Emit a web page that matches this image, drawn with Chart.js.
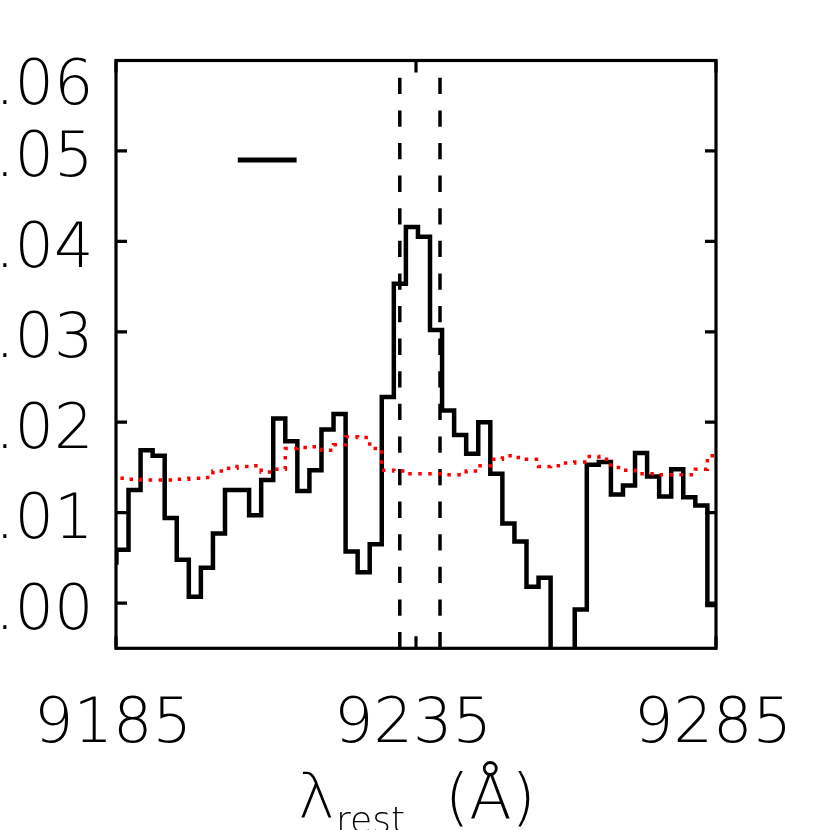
<!DOCTYPE html>
<html><head><meta charset="utf-8">
<script src="https://cdn.jsdelivr.net/npm/chart.js@4/dist/chart.umd.min.js"></script>
<style>html,body{margin:0;padding:0;background:#fff;}canvas{display:block;}</style>
</head><body>
<canvas id="c" width="830" height="830"></canvas>
<script>
// Bin centres (Å, rest frame)
const wavelength = [9184.07,9186.08,9188.09,9190.10,9192.11,9194.12,9196.13,9198.14,9200.15,9202.16,
  9204.17,9206.18,9208.19,9210.20,9212.21,9214.22,9216.23,9218.24,9220.25,9222.26,
  9224.27,9226.28,9228.29,9230.30,9232.31,9234.32,9236.33,9238.34,9240.35,9242.36,
  9244.37,9246.38,9248.39,9250.40,9252.41,9254.42,9256.43,9258.44,9260.45,9262.46,
  9264.47,9266.48,9268.49,9270.50,9272.51,9274.52,9276.53,9278.54,9280.55,9282.56,
  9284.57,9286.58];
// Flux per bin
const flux = [0.0045,0.0059,0.0125,0.0169,0.0163,0.0094,0.0048,0.0007,0.0039,0.0077,
  0.0125,0.0125,0.0097,0.0136,0.0204,0.0179,0.0124,0.0147,0.0192,0.0209,
  0.0057,0.0034,0.0065,0.0228,0.0353,0.0416,0.0405,0.0302,0.0213,0.0186,
  0.0165,0.0200,0.0143,0.0088,0.0068,0.0018,0.0028,-0.0120,-0.0100,-0.0007,
  0.0153,0.0156,0.0120,0.0130,0.0166,0.0140,0.0118,0.0148,0.0117,0.0108,
  -0.0002,-0.0002];
// Noise per bin
const noise = [0.0138,0.0138,0.0137,0.0136,0.0136,0.0136,0.0137,0.0138,0.0139,0.0146,
  0.0149,0.0151,0.0152,0.0145,0.0148,0.0171,0.0172,0.0173,0.0169,0.0175,
  0.0184,0.0183,0.0171,0.0147,0.0146,0.0143,0.0143,0.0143,0.0142,0.0142,
  0.0146,0.0152,0.0159,0.0163,0.0161,0.0159,0.0151,0.0152,0.0155,0.0156,
  0.0162,0.0159,0.0150,0.0147,0.0143,0.0143,0.0142,0.0142,0.0142,0.0148,
  0.0163,0.0167];
const lineMarkers = [9232.3, 9239.0];
const resolutionX = [9205.3, 9215.1];
const resolutionY = [0.049, 0.049];
const xRange = [9185, 9285];
const yRange = [-0.005, 0.06];
const xTicks = [9185, 9235, 9285];
const xTickLabels = ['9185', '9235', '9285'];
const yTicks = [0.00, 0.01, 0.02, 0.03, 0.04, 0.05, 0.06];
const yTickLabels = ['0.00', '0.01', '0.02', '0.03', '0.04', '0.05', '0.06'];
const axisTitle = ['\u03BB', 'rest', '(\u00C5)'];

const FONT = "'DejaVu Sans', 'Liberation Sans', sans-serif";
const FSIZE = 62;

const pts = (xs, ys) => xs.map((x, i) => ({x: x, y: ys[i]}));

const datasets = [
  {label: 'noise', data: pts(wavelength, noise), borderColor: '#ff0000', borderWidth: 3.5,
   borderDash: [3.5, 6.5], borderCapStyle: 'butt', stepped: 'middle', pointRadius: 0, order: 0},
  {label: 'flux', data: pts(wavelength, flux), borderColor: '#000', borderWidth: 4.5,
   stepped: 'middle', borderJoinStyle: 'miter', pointRadius: 0, order: 1},
  {label: 'resolution', data: pts(resolutionX, resolutionY), borderColor: '#000', borderWidth: 5,
   pointRadius: 0, order: 2}
];
lineMarkers.forEach((lx, i) => datasets.push({
  label: 'line' + i, data: pts([lx, lx], yRange), borderColor: '#000', borderWidth: 3.5,
  borderDash: [16.3, 16.3], borderCapStyle: 'butt', pointRadius: 0, order: 3
}));

const framePlugin = {
  id: 'frame',
  afterDraw(chart) {
    const ctx = chart.ctx, a = chart.chartArea;
    const xs = chart.scales.x, ys = chart.scales.y;
    ctx.save();
    ctx.strokeStyle = '#000';
    ctx.lineWidth = 3.2;
    ctx.lineCap = 'butt';
    ctx.strokeRect(a.left, a.top, a.right - a.left, a.bottom - a.top);
    ctx.beginPath();
    yTicks.forEach(v => {
      const y = ys.getPixelForValue(v);
      ctx.moveTo(a.left, y); ctx.lineTo(a.left + 11, y);
      ctx.moveTo(a.right, y); ctx.lineTo(a.right - 11, y);
    });
    xTicks.forEach(v => {
      const x = xs.getPixelForValue(v);
      ctx.moveTo(x, a.bottom); ctx.lineTo(x, a.bottom - 12);
      ctx.moveTo(x, a.top); ctx.lineTo(x, a.top + 12);
    });
    ctx.stroke();
    ctx.fillStyle = '#000';
    ctx.font = '200 ' + FSIZE + 'px ' + FONT;
    ctx.textBaseline = 'alphabetic';
    ctx.textAlign = 'right';
    yTicks.forEach((v, i) => {
      const y = ys.getPixelForValue(v);
      const base = Math.max(y + 25.5, a.top + 43);
      ctx.fillText(yTickLabels[i], 93.5, base);
    });
    ctx.textAlign = 'center';
    xTicks.forEach((v, i) => {
      ctx.fillText(xTickLabels[i], xs.getPixelForValue(v) - 3, 742);
    });
    // axis title
    const cx = xs.getPixelForValue(9235);
    ctx.textAlign = 'left';
    ctx.fillText(axisTitle[0], cx - 118, 818);
    ctx.font = '200 36px ' + FONT;
    ctx.fillText(axisTitle[1], cx - 80, 832);
    ctx.font = '200 ' + FSIZE + 'px ' + FONT;
    ctx.fillText(axisTitle[2], cx + 29, 818);
    ctx.restore();
  }
};

new Chart(document.getElementById('c'), {
  type: 'line',
  data: {datasets: datasets},
  options: {
    responsive: false,
    animation: false,
    layout: {padding: {left: 116, top: 60.5, right: 114, bottom: 181.7}},
    plugins: {legend: {display: false}, tooltip: {enabled: false}},
    scales: {
      x: {type: 'linear', min: xRange[0], max: xRange[1], display: false},
      y: {type: 'linear', min: yRange[0], max: yRange[1], display: false}
    }
  },
  plugins: [framePlugin]
});
</script>
</body></html>
